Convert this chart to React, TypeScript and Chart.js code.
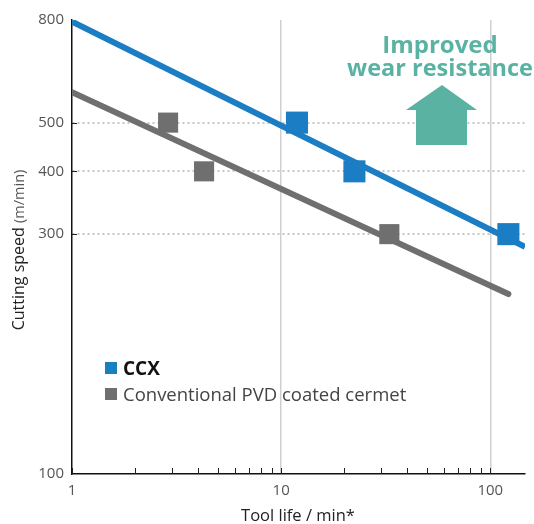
import React, { useEffect, useRef } from "react";
import { Chart, registerables } from "chart.js";

Chart.register(...registerables);

const ccxLine = [
  { x: 1, y: 794 },
  { x: 146.5, y: 283 },
];
const conventionalLine = [
  { x: 1, y: 575 },
  { x: 122, y: 228 },
];
const ccxPoints = [
  { x: 11.9, y: 500 },
  { x: 22.4, y: 400 },
  { x: 122, y: 300 },
];
const conventionalPoints = [
  { x: 2.88, y: 500 },
  { x: 4.28, y: 400 },
  { x: 32.9, y: 300 },
];
const X_MIN = 1;
const X_MAX = 146.5;
const yTicks = [100, 300, 400, 500, 800];
const yGrid = [300, 400, 500];
const xTicks = [1, 2, 3, 4, 5, 6, 7, 8, 9, 10, 20, 30, 40, 50, 60, 70, 80, 90, 100];
const xLabels = [1, 10, 100];
const xGrid = [10, 100];
const legendLabels = ["CCX", "Conventional PVD coated cermet"];
const annotationLines = ["Improved", "wear resistance"];

const BLUE = "#1b7dc4";
const GRAY = "#6f6f6f";
const TEAL = "#5ab2a3";
const FONT = "'Open Sans', sans-serif";

const overlay = {
  id: "overlay",
  afterDraw(chart: any) {
    const ctx = chart.ctx;
    const xs = chart.scales.x;
    const ys = chart.scales.y;
    const area = chart.chartArea;
    ctx.save();
    // inner tick marks
    ctx.strokeStyle = "#222";
    ctx.lineWidth = 1;
    xTicks.forEach((v) => {
      const px = Math.round(xs.getPixelForValue(v)) + 0.5;
      ctx.beginPath();
      ctx.moveTo(px, area.bottom);
      ctx.lineTo(px, area.bottom - 6);
      ctx.stroke();
    });
    yGrid.forEach((v) => {
      const py = Math.round(ys.getPixelForValue(v)) + 0.5;
      ctx.beginPath();
      ctx.moveTo(area.left, py);
      ctx.lineTo(area.left + 5, py);
      ctx.stroke();
    });
    // legend
    const lx = 105;
    ctx.fillStyle = BLUE;
    ctx.fillRect(lx, 362, 12, 12);
    ctx.fillStyle = GRAY;
    ctx.fillRect(lx, 388, 12, 12);
    ctx.textBaseline = "alphabetic";
    ctx.textAlign = "left";
    ctx.fillStyle = "#111";
    ctx.font = `bold 19px ${FONT}`;
    ctx.fillText(legendLabels[0], 123, 375);
    ctx.fillStyle = "#444";
    ctx.font = `18.5px ${FONT}`;
    ctx.fillText(legendLabels[1], 123, 401);
    // annotation
    ctx.fillStyle = TEAL;
    ctx.textAlign = "center";
    ctx.font = `bold 24px ${FONT}`;
    ctx.fillText(annotationLines[0], 440, 53);
    ctx.font = `bold 23.5px ${FONT}`;
    ctx.fillText(annotationLines[1], 440, 76);
    ctx.beginPath();
    ctx.moveTo(442, 85);
    ctx.lineTo(477, 110);
    ctx.lineTo(467, 110);
    ctx.lineTo(467, 145);
    ctx.lineTo(416, 145);
    ctx.lineTo(416, 110);
    ctx.lineTo(406, 110);
    ctx.closePath();
    ctx.fill();
    // axis titles
    ctx.fillStyle = "#222";
    ctx.textAlign = "center";
    ctx.font = `16.5px ${FONT}`;
    ctx.fillText("Tool life / min*", 298, 521);
    ctx.translate(24, 250);
    ctx.rotate(-Math.PI / 2);
    ctx.textAlign = "left";
    const t1 = "Cutting speed ";
    ctx.font = `16px ${FONT}`;
    const w1 = ctx.measureText(t1).width;
    ctx.font = `14.5px ${FONT}`;
    const t2 = "(m/min)";
    const w2 = ctx.measureText(t2).width;
    const start = -(w1 + w2) / 2;
    ctx.font = `16px ${FONT}`;
    ctx.fillStyle = "#222";
    ctx.fillText(t1, start, 0);
    ctx.font = `14.5px ${FONT}`;
    ctx.fillStyle = "#555";
    ctx.fillText(t2, start + w1, 0);
    ctx.restore();
  },
};

export default function App() {
  const ref = useRef<HTMLCanvasElement>(null);
  useEffect(() => {
    document.body.style.margin = "0";
    const chart = new Chart(ref.current!, {
      type: "scatter",
      data: {
        datasets: [
          {
            data: ccxPoints,
            backgroundColor: BLUE,
            pointStyle: "rect",
            pointRadius: 15.6,
            pointHoverRadius: 15.6,
            borderWidth: 0,
          },
          {
            data: conventionalPoints,
            backgroundColor: GRAY,
            pointStyle: "rect",
            pointRadius: 14.2,
            pointHoverRadius: 14.2,
            borderWidth: 0,
          },
          {
            type: "line",
            data: ccxLine,
            borderColor: BLUE,
            borderWidth: 6,
            pointRadius: 0,
            showLine: true,
          },
          {
            type: "line",
            data: conventionalLine,
            borderColor: GRAY,
            borderWidth: 6,
            borderCapStyle: "round",
            pointRadius: 0,
            showLine: true,
          },
        ] as any,
      },
      options: {
        animation: false,
        responsive: false,
        events: [],
        layout: { autoPadding: false, padding: { top: 20, right: 9, left: 0, bottom: 0 } },
        plugins: { legend: { display: false }, tooltip: { enabled: false } },
        scales: {
          x: {
            type: "logarithmic",
            min: X_MIN,
            max: X_MAX,
            afterBuildTicks: (s: any) => {
              s.ticks = [...xTicks, X_MAX].map((v) => ({ value: v }));
            },
            afterFit: (s: any) => {
              s.height = 50;
            },
            ticks: {
              autoSkip: false,
              maxRotation: 0,
              padding: 8,
              color: "#555",
              font: { family: FONT, size: 15 },
              callback: (v: any) => (xLabels.includes(Number(v)) ? String(v) : ""),
            },
            grid: {
              drawTicks: false,
              lineWidth: 1.5,
              color: (c: any) => (c.tick && xGrid.includes(c.tick.value) ? "#cfcfcf" : "rgba(0,0,0,0)"),
            },
            border: { display: true, color: "#111", width: 1.5 },
          },
          y: {
            type: "logarithmic",
            min: 100,
            max: 800,
            afterBuildTicks: (s: any) => {
              s.ticks = yTicks.map((v) => ({ value: v }));
            },
            afterFit: (s: any) => {
              s.width = 72;
            },
            ticks: {
              autoSkip: false,
              padding: 8,
              color: "#555",
              font: { family: FONT, size: 15 },
              callback: (v: any) => String(v),
            },
            grid: {
              drawTicks: false,
              lineWidth: 2,
              color: (c: any) => (c.tick && yGrid.includes(c.tick.value) ? "#c6c6c6" : "rgba(0,0,0,0)"),
            },
            border: { display: true, color: "#111", width: 1.5, dash: [2, 3] },
          },
        },
      },
      plugins: [overlay],
    });
    return () => chart.destroy();
  }, []);
  return <canvas ref={ref} width={534} height={524} />;
}
